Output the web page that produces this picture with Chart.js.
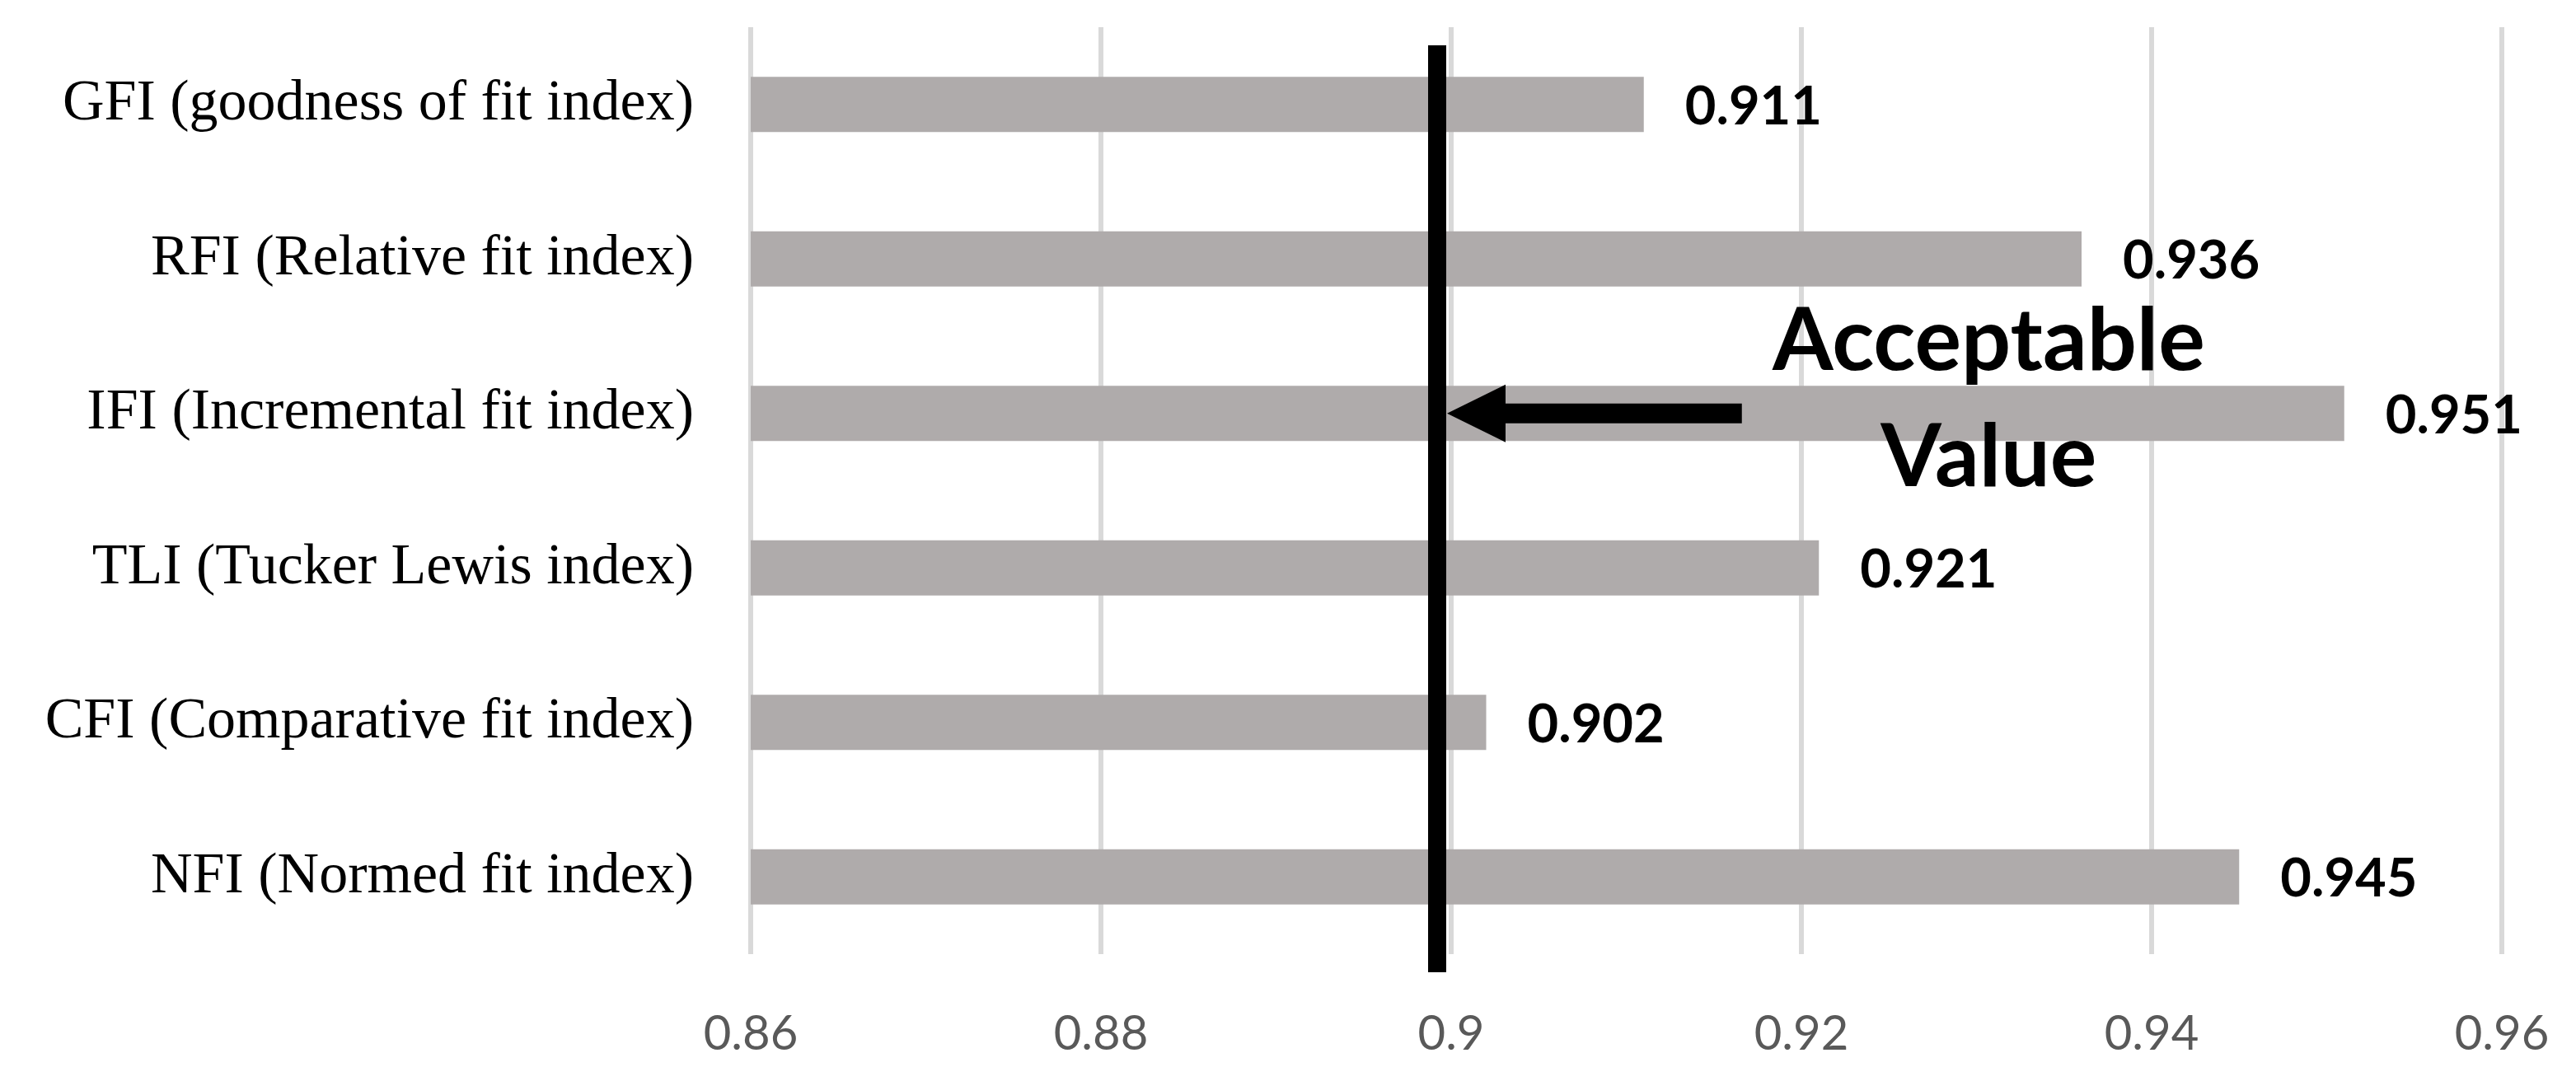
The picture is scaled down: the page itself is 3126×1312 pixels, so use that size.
<!DOCTYPE html>
<html lang="en">
<head>
  <meta charset="UTF-8">
  <title>Model fit indices</title>
  <script src="https://cdn.jsdelivr.net/npm/chart.js"></script>
  <style>
    html, body { margin: 0; padding: 0; background: #fff; }
    #wrap { width: 3126px; height: 1312px; }
  </style>
</head>
<body>
<div id="wrap"><canvas id="chart" width="3126" height="1312"></canvas></div>

<script>
  // chart data
  const categories = [
    'GFI (goodness of fit index)',
    'RFI (Relative fit index)',
    'IFI (Incremental fit index)',
    'TLI (Tucker Lewis index)',
    'CFI (Comparative fit index)',
    'NFI (Normed fit index)'
  ];
  const fitValues = [0.911, 0.936, 0.951, 0.921, 0.902, 0.945];
  const valueLabels = ['0.911', '0.936', '0.951', '0.921', '0.902', '0.945'];
  const xTicks = [0.86, 0.88, 0.9, 0.92, 0.94, 0.96];
  const acceptableValue = 0.8992;
  const noteLines = ['Acceptable', 'Value'];

  // drop the extra padding chart.js reserves for half-labels
  function noEdgePadding(scale) {
    scale.paddingTop = 0;
    scale.paddingBottom = 0;
    scale.paddingLeft = 0;
    scale.paddingRight = 0;
  }

  // bar value labels, bold, just right of each bar
  const valueLabelPlugin = {
    id: 'valueLabels',
    afterDatasetsDraw(chart) {
      const ctx = chart.ctx;
      const meta = chart.getDatasetMeta(0);
      ctx.save();
      ctx.font = 'bold 65px Lato';
      ctx.fillStyle = '#000';
      ctx.textAlign = 'left';
      ctx.textBaseline = 'middle';
      meta.data.forEach((bar, i) => {
        ctx.fillText(valueLabels[i], bar.x + 50, bar.y + 3);
      });
      ctx.restore();
    }
  };

  // threshold line + arrow + note
  const thresholdPlugin = {
    id: 'threshold',
    afterDatasetsDraw(chart) {
      const ctx = chart.ctx;
      const xs = chart.scales.x;
      const ys = chart.scales.y;
      const area = chart.chartArea;
      const x = xs.getPixelForValue(acceptableValue);
      ctx.save();
      ctx.fillStyle = '#000';
      ctx.fillRect(x - 11, area.top + 22, 22, area.bottom - area.top);

      // arrow pointing at the line, on the IFI row
      const ay = ys.getPixelForValue(2);
      const tip = x + 12;
      const tail = xs.getPixelForValue(0.9166);
      ctx.beginPath();
      ctx.moveTo(tip, ay);
      ctx.lineTo(tip + 71, ay - 35);
      ctx.lineTo(tip + 71, ay - 12);
      ctx.lineTo(tail, ay - 12);
      ctx.lineTo(tail, ay + 12);
      ctx.lineTo(tip + 71, ay + 12);
      ctx.lineTo(tip + 71, ay + 35);
      ctx.closePath();
      ctx.fill();

      const cx = xs.getPixelForValue(0.9307);
      ctx.font = 'bold 106px Lato';
      ctx.textAlign = 'center';
      ctx.textBaseline = 'alphabetic';
      ctx.fillText(noteLines[0], cx, ay - 53);
      ctx.fillText(noteLines[1], cx, ay + 88);
      ctx.restore();
    }
  };

  new Chart(document.getElementById('chart'), {
    type: 'bar',
    data: {
      labels: categories,
      datasets: [{
        data: fitValues,
        backgroundColor: '#AFABAB',
        categoryPercentage: 1,
        barPercentage: 0.357
      }]
    },
    options: {
      indexAxis: 'y',
      responsive: false,
      animation: false,
      layout: { padding: { top: 33, right: 90, left: 0, bottom: 0 } },
      plugins: { legend: { display: false }, tooltip: { enabled: false } },
      scales: {
        x: {
          min: 0.86,
          max: 0.96,
          afterBuildTicks(scale) { scale.ticks = xTicks.map(v => ({ value: v })); },
          afterFit(scale) { scale.height = 154; noEdgePadding(scale); },
          grid: { color: '#D9D9D9', lineWidth: 6, drawTicks: false },
          border: { display: false },
          ticks: {
            color: '#595959',
            font: { family: 'Lato', size: 58 },
            padding: 62,
            callback: v => String(+v.toFixed(2))
          }
        },
        y: {
          afterFit(scale) { scale.width = 911; noEdgePadding(scale); },
          grid: { display: false, drawTicks: false },
          border: { display: false },
          ticks: {
            color: '#000',
            font: { family: 'Liberation Serif', size: 70 },
            padding: 69
          }
        }
      }
    },
    plugins: [valueLabelPlugin, thresholdPlugin]
  });
</script>
</body>
</html>
